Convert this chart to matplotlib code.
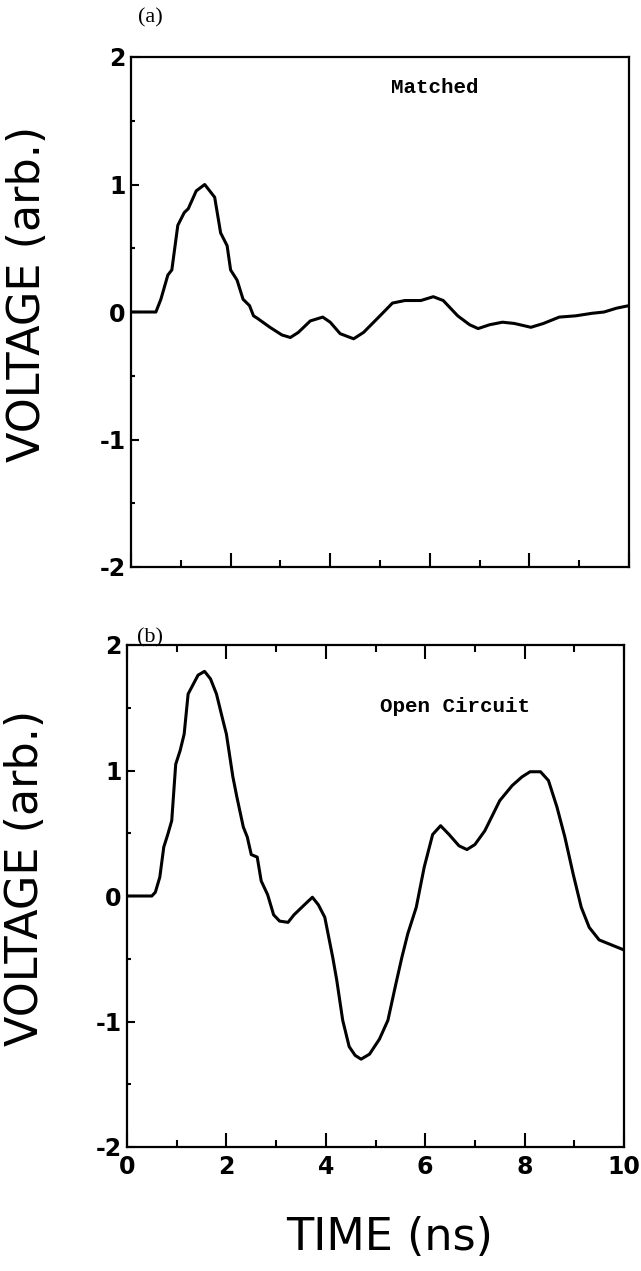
import matplotlib.pyplot as plt
from matplotlib.ticker import MultipleLocator

plt.rcParams['axes.unicode_minus'] = False

# (a) matched termination
t_matched = [0.0, 0.5, 0.6, 0.74, 0.82, 0.94, 1.07, 1.15, 1.31, 1.48, 1.56, 1.68,
             1.8, 1.93, 2.0, 2.13, 2.25, 2.38, 2.46, 2.54, 2.79, 3.03, 3.2, 3.36,
             3.6, 3.85, 4.0, 4.2, 4.47, 4.67, 5.0, 5.25, 5.5, 5.82, 6.07, 6.27,
             6.56, 6.8, 6.97, 7.2, 7.46, 7.7, 8.03, 8.28, 8.6, 8.93, 9.26, 9.5,
             9.75, 10.0]
v_matched = [0.0, 0.0, 0.1, 0.29, 0.33, 0.68, 0.78, 0.81, 0.95, 1.0, 0.96, 0.9,
             0.62, 0.52, 0.33, 0.25, 0.1, 0.05, -0.03, -0.05, -0.12, -0.18, -0.2, -0.16,
             -0.07, -0.04, -0.08, -0.17, -0.21, -0.16, -0.03, 0.07, 0.09, 0.09, 0.12, 0.09,
             -0.03, -0.1, -0.13, -0.1, -0.08, -0.09, -0.12, -0.09, -0.04, -0.03, -0.01, 0.0,
             0.03, 0.05]

# (b) open circuit
t_open = [0.0, 0.5, 0.57, 0.66, 0.74, 0.82, 0.9, 0.98, 1.07, 1.15, 1.23, 1.31,
          1.43, 1.56, 1.68, 1.8, 1.93, 2.0, 2.13, 2.21, 2.34, 2.42, 2.5, 2.62,
          2.7, 2.83, 2.95, 3.07, 3.24, 3.36, 3.57, 3.73, 3.85, 3.98, 4.06, 4.14,
          4.22, 4.34, 4.47, 4.59, 4.71, 4.88, 5.08, 5.25, 5.41, 5.53, 5.65, 5.82,
          5.98, 6.15, 6.31, 6.48, 6.68, 6.84, 7.0, 7.2, 7.5, 7.75, 7.95, 8.11,
          8.32, 8.48, 8.65, 8.81, 8.98, 9.14, 9.3, 9.5, 9.75, 10.0]
v_open = [0.0, 0.0, 0.03, 0.15, 0.39, 0.49, 0.6, 1.05, 1.16, 1.29, 1.61, 1.67,
          1.76, 1.79, 1.73, 1.61, 1.4, 1.29, 0.95, 0.79, 0.55, 0.47, 0.33, 0.31,
          0.12, 0.01, -0.15, -0.2, -0.21, -0.15, -0.07, -0.01, -0.07, -0.17, -0.33, -0.49,
          -0.67, -0.99, -1.2, -1.27, -1.3, -1.26, -1.14, -0.99, -0.7, -0.49, -0.3, -0.09,
          0.23, 0.49, 0.56, 0.49, 0.4, 0.37, 0.41, 0.52, 0.76, 0.88, 0.95, 0.99,
          0.99, 0.92, 0.71, 0.47, 0.17, -0.09, -0.25, -0.35, -0.39, -0.43]

W, H = 641, 1271
fig = plt.figure(figsize=(W / 100, H / 100), dpi=100)


def px_axes(left, top, right, bottom):
    return fig.add_axes([left / W, 1 - bottom / H, (right - left) / W, (bottom - top) / H])


def style_axes(ax, top_ticks, show_xlabels, label_x):
    ax.set_xlim(0, 10)
    ax.set_ylim(-2, 2)
    ax.xaxis.set_major_locator(MultipleLocator(2))
    ax.xaxis.set_minor_locator(MultipleLocator(1))
    ax.yaxis.set_major_locator(MultipleLocator(1))
    ax.yaxis.set_minor_locator(MultipleLocator(0.5))
    for sp in ax.spines.values():
        sp.set_linewidth(1.6)
    ax.tick_params(axis='x', which='major', direction='in', length=10, width=1.5,
                   top=top_ticks, labelbottom=show_xlabels, labelsize=17, pad=6)
    ax.tick_params(axis='x', which='minor', direction='in', length=5, width=1.5,
                   top=top_ticks)
    ax.tick_params(axis='y', which='major', direction='in', length=6, width=1.5,
                   labelsize=17, pad=4)
    ax.tick_params(axis='y', which='minor', direction='in', length=3, width=1.5)
    for lbl in ax.get_xticklabels() + ax.get_yticklabels():
        lbl.set_fontweight('bold')
    ax.set_ylabel('VOLTAGE (arb.)', fontsize=32)
    ax.yaxis.set_label_coords(label_x, 0.535)


ax1 = px_axes(131, 57, 629, 567)
ax1.plot(t_matched, v_matched, color='black', lw=2.2)
style_axes(ax1, top_ticks=False, show_xlabels=False, label_x=-0.165)
ax1.text(0.61, 0.94, 'Matched', transform=ax1.transAxes, ha='center', va='center',
         family='Liberation Mono', fontweight='bold', fontsize=15)

ax2 = px_axes(127, 645, 624, 1147)
ax2.plot(t_open, v_open, color='black', lw=2.2)
style_axes(ax2, top_ticks=True, show_xlabels=True, label_x=-0.16)
ax2.text(0.66, 0.877, 'Open Circuit', transform=ax2.transAxes, ha='center', va='center',
         family='Liberation Mono', fontweight='bold', fontsize=15)

fig.text(390 / W, 1 - 1237 / H, 'TIME (ns)', fontsize=32, ha='center', va='center')
fig.text(150 / W, 1 - 18 / H, '(a)', family='Liberation Serif', fontsize=16,
         ha='center', va='center')
fig.text(150 / W, 1 - 638 / H, '(b)', family='Liberation Serif', fontsize=16,
         ha='center', va='center')

fig.savefig('out.png', dpi=100)
